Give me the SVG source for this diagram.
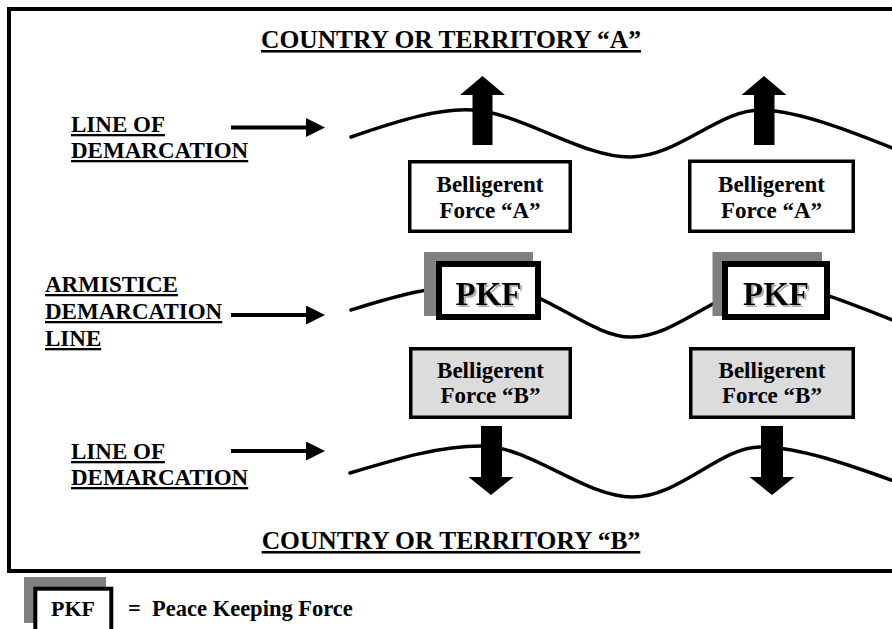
<svg xmlns="http://www.w3.org/2000/svg" width="892" height="629" viewBox="0 0 892 629">
  <style>
    text { font-family: "Liberation Serif", "Times New Roman", serif; font-weight: bold; fill: #000; }
    .title { font-size: 25.5px; text-anchor: middle; text-decoration: underline; text-decoration-thickness: 2px; }
    .label { font-size: 23px; text-decoration: underline; text-decoration-thickness: 2px; }
    .force { font-size: 23px; text-anchor: middle; }
    .pkf { font-size: 33px; text-anchor: middle; filter: url(#pkfShadow); }
    .box { stroke: #000; stroke-width: 3.5; }
    .boxA { fill: #fff; }
    .boxB { fill: #dcdcdc; }
    .pkfBox { fill: #fff; stroke: #000; stroke-width: 6; }
    .shadow { fill: #808080; }
    .wave { fill: none; stroke: #000; stroke-width: 3.5; stroke-linecap: round; }
    .pointer { stroke: #000; stroke-width: 4; }
    .block { fill: #000; }
  </style>
  <defs>
    <filter id="pkfShadow" x="-20%" y="-20%" width="150%" height="150%">
      <feDropShadow dx="2" dy="2" stdDeviation="0.6" flood-color="#b0b0b0" flood-opacity="1"/>
    </filter>
    <marker id="head" viewBox="0 0 10 10" refX="0" refY="5" markerWidth="4.75" markerHeight="4.75" markerUnits="strokeWidth" orient="auto">
      <path d="M0,0 L10,5 L0,10 Z" fill="#000"/>
    </marker>
  </defs>

  <rect width="892" height="629" fill="#fff"/>

  <!-- outer frame (right side runs off the page) -->
  <rect x="9" y="9" width="900" height="562" fill="none" stroke="#000" stroke-width="4"/>

  <text class="title" x="451" y="48">COUNTRY OR TERRITORY “A”</text>
  <text class="title" x="451" y="549">COUNTRY OR TERRITORY “B”</text>

  <!-- left-hand labels -->
  <g id="label-top">
    <text class="label" x="71" y="132">LINE OF</text>
    <text class="label" x="71" y="158">DEMARCATION</text>
  </g>
  <g id="label-armistice">
    <text class="label" x="45" y="292">ARMISTICE</text>
    <text class="label" x="45" y="319">DEMARCATION</text>
    <text class="label" x="45" y="346">LINE</text>
  </g>
  <g id="label-bottom">
    <text class="label" x="71" y="459">LINE OF</text>
    <text class="label" x="71" y="485">DEMARCATION</text>
  </g>

  <!-- demarcation lines and pointers -->
  <g id="connectors">
    <line class="pointer" x1="231" y1="127.5" x2="306" y2="127.5" marker-end="url(#head)"/>
    <line class="pointer" x1="231" y1="315" x2="306" y2="315" marker-end="url(#head)"/>
    <line class="pointer" x1="231" y1="451" x2="306" y2="451" marker-end="url(#head)"/>

    <path class="wave" d="M351,137 C400,120 440,108 472,110 C520,112 583,158 631,157 C680,156 720,108 763,110 C805,112 860,135 905,153"/>
    <path class="wave" d="M351,310 C390,298 430,285 488,284 C540,284 590,338 632,337 C680,336 720,285 776,284 C805,285 850,303 905,325"/>
    <path class="wave" d="M350,473 C400,458 440,446 481,446 C530,446 585,497 632,497 C680,497 720,447 760,447 C800,447 850,465 905,485"/>
  </g>

  <!-- outward block arrows -->
  <g id="arrow-up-left"><path class="block" d="M482.5,76 L505,95 L492.5,95 L492.5,145 L472.5,145 L472.5,95 L460,95 Z"/></g>
  <g id="arrow-up-right"><path class="block" d="M764,76 L786.5,95 L774.5,95 L774.5,145 L754,145 L754,95 L741.5,95 Z"/></g>
  <g id="arrow-down-left"><path class="block" d="M481,426 L502,426 L502,477 L513.5,477 L491,495 L468.5,477 L481,477 Z"/></g>
  <g id="arrow-down-right"><path class="block" d="M761,426 L783,426 L783,477 L794.5,477 L772,495 L749.5,477 L761,477 Z"/></g>

  <!-- belligerent force A -->
  <g id="force-a-left">
    <rect class="box boxA" x="409.75" y="161.75" width="160.5" height="69.5"/>
    <text class="force" x="490" y="192">Belligerent</text>
    <text class="force" x="490" y="218">Force “A”</text>
  </g>
  <g id="force-a-right">
    <rect class="box boxA" x="689.75" y="161.25" width="163.5" height="70"/>
    <text class="force" x="771.5" y="192">Belligerent</text>
    <text class="force" x="771.5" y="218">Force “A”</text>
  </g>

  <!-- peace keeping force on the armistice line -->
  <g id="pkf-left">
    <rect class="shadow" x="424" y="252" width="109" height="64"/>
    <rect class="pkfBox" x="439" y="264" width="99" height="53"/>
    <text class="pkf" x="488.5" y="305">PKF</text>
  </g>
  <g id="pkf-right">
    <rect class="shadow" x="712.5" y="252" width="109.5" height="64"/>
    <rect class="pkfBox" x="725" y="264" width="102" height="53"/>
    <text class="pkf" x="776" y="305">PKF</text>
  </g>

  <!-- belligerent force B -->
  <g id="force-b-left">
    <rect class="box boxB" x="410.75" y="348.75" width="159.5" height="68.5"/>
    <text class="force" x="490.5" y="378">Belligerent</text>
    <text class="force" x="490.5" y="403">Force “B”</text>
  </g>
  <g id="force-b-right">
    <rect class="box boxB" x="690.75" y="348.75" width="162.5" height="68.5"/>
    <text class="force" x="772" y="378">Belligerent</text>
    <text class="force" x="772" y="403">Force “B”</text>
  </g>

  <!-- key -->
  <g id="legend">
    <rect class="shadow" x="24" y="577" width="82" height="46"/>
    <rect x="35.3" y="588.7" width="76" height="60" fill="#fff" stroke="#000" stroke-width="4"/>
    <text x="73" y="616" font-size="22" text-anchor="middle">PKF</text>
    <text x="128" y="616" font-size="22.5" xml:space="preserve">=  Peace Keeping Force</text>
  </g>
</svg>
